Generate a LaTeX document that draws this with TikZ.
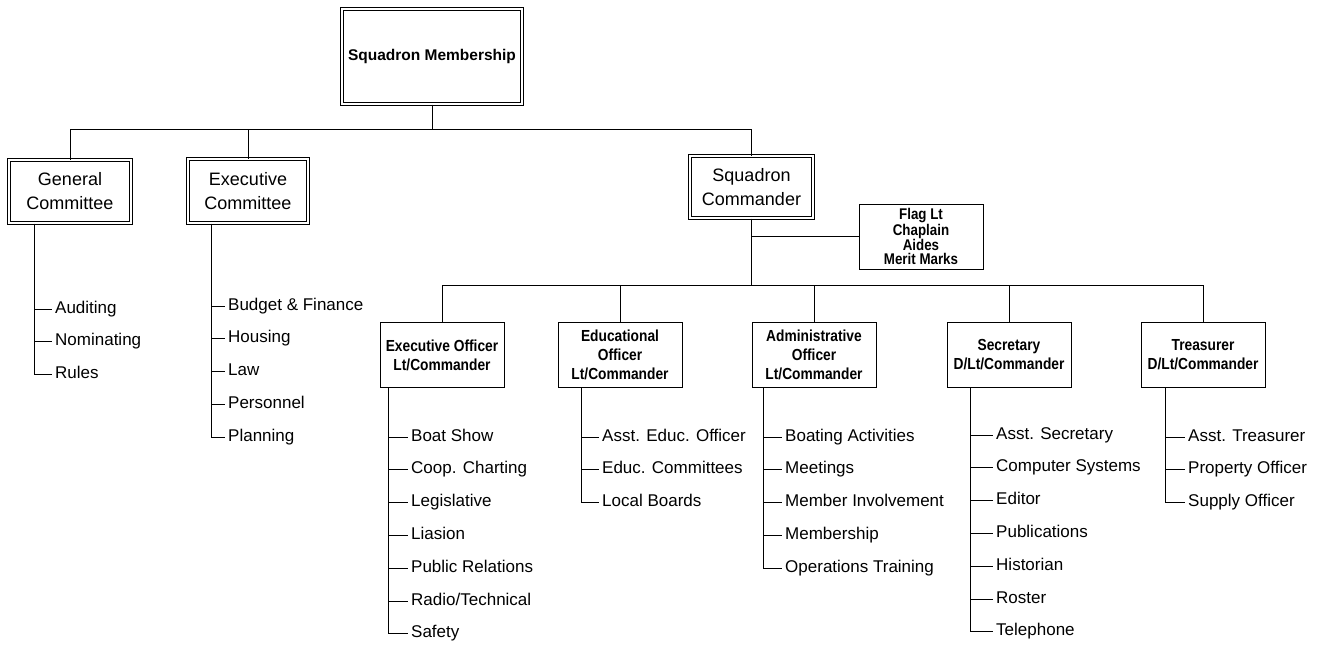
\documentclass[tikz,border=0pt]{standalone}
\usepackage{fontspec}
\setmainfont{Liberation Sans}
\newfontfamily\narrowbf[FakeStretch=0.86]{Liberation Sans Bold}
\usetikzlibrary{positioning}

\begin{document}
\begin{tikzpicture}[
    x=1pt, y=-1pt,
    dbox/.style={rectangle, draw=black, double=white, line width=1pt, double distance=2pt, align=center, font=\fontsize{18}{24}\selectfont},
    obox/.style={rectangle, draw, line width=1pt, minimum width=124pt, minimum height=65pt, align=center, font=\fontsize{16}{19}\narrowbf},
    item/.style={anchor=west, inner xsep=3pt, inner ysep=0pt, text height=12pt, text depth=4pt, font=\fontsize{17}{20}\selectfont},
    nextitem/.style={below=32.8pt of #1.west, anchor=west},
    link/.style={line width=1pt}
]
\useasboundingbox (0,0) rectangle (1320,648);

% top level
\node[dbox, minimum width=180pt, minimum height=95pt, font=\fontsize{15.5}{18}\selectfont\bfseries] (memb) at (432,56.5) {Squadron Membership};
\node[dbox, minimum width=122pt, minimum height=63pt] (gc) at (70,191.5) {General\\Committee};
\node[dbox, minimum width=120pt, minimum height=64pt] (ec) at (248,191) {Executive\\Committee};
\node[dbox, minimum width=123pt, minimum height=62pt] (sc) at (751.5,187) {Squadron\\Commander};
\node[obox, font=\fontsize{15.5}{14}\narrowbf, right=45pt of sc, yshift=-49.5pt] (flag) {Flag Lt\\Chaplain\\Aides\\Merit Marks};

% officers
\node[obox] (eo) at (442,355) {Executive Officer\\Lt/Commander};
\node[obox, right=53pt of eo] (edu) {Educational\\Officer\\Lt/Commander};
\node[obox, right=69pt of edu] (adm) {Administrative\\Officer\\Lt/Commander};
\node[obox, right=70pt of adm] (sec) {Secretary\\D/Lt/Commander};
\node[obox, right=69pt of sec] (tre) {Treasurer\\D/Lt/Commander};

% committees
\node[item] (gc1) at (52,309) {Auditing};
\node[item, nextitem=gc1] (gc2) {Nominating};
\node[item, nextitem=gc2] (gc3) {Rules};

\node[item] (ec1) at (225,306) {Budget \& Finance};
\node[item, nextitem=ec1] (ec2) {Housing};
\node[item, nextitem=ec2] (ec3) {Law};
\node[item, nextitem=ec3] (ec4) {Personnel};
\node[item, nextitem=ec4] (ec5) {Planning};

% executive officer
\node[item] (eo1) at (408,437) {Boat Show};
\node[item, nextitem=eo1] (eo2) {Coop. Charting};
\node[item, nextitem=eo2] (eo3) {Legislative};
\node[item, nextitem=eo3] (eo4) {Liasion};
\node[item, nextitem=eo4] (eo5) {Public Relations};
\node[item, nextitem=eo5] (eo6) {Radio/Technical};
\node[item, nextitem=eo6] (eo7) {Safety};

% educational officer
\node[item] (edu1) at (599,437) {Asst. Educ. Officer};
\node[item, nextitem=edu1] (edu2) {Educ. Committees};
\node[item, nextitem=edu2] (edu3) {Local Boards};

% administrative officer
\node[item] (adm1) at (782,437) {Boating Activities};
\node[item, nextitem=adm1] (adm2) {Meetings};
\node[item, nextitem=adm2] (adm3) {Member Involvement};
\node[item, nextitem=adm3] (adm4) {Membership};
\node[item, nextitem=adm4] (adm5) {Operations Training};

% secretary
\node[item] (sec1) at (993,435) {Asst. Secretary};
\node[item, nextitem=sec1] (sec2) {Computer Systems};
\node[item, nextitem=sec2] (sec3) {Editor};
\node[item, nextitem=sec3] (sec4) {Publications};
\node[item, nextitem=sec4] (sec5) {Historian};
\node[item, nextitem=sec5] (sec6) {Roster};
\node[item, nextitem=sec6] (sec7) {Telephone};

% treasurer
\node[item] (tre1) at (1185,437) {Asst. Treasurer};
\node[item, nextitem=tre1] (tre2) {Property Officer};
\node[item, nextitem=tre2] (tre3) {Supply Officer};

% buses
\coordinate (top-bus) at ([yshift=-25pt]memb.south);
\coordinate (cmd-bus) at ([yshift=-67pt]sc.south);
\draw[link] (memb.south) -- (top-bus);
\draw[link] (gc.north) |- (top-bus) -| (sc.north);
\draw[link] (ec.north) -- (ec.north |- top-bus);
\draw[link] (sc.south) -- (cmd-bus);
\draw[link] (flag.west) -- (flag.west -| sc.south);
\draw[link] (eo.north) |- (cmd-bus) -| (tre.north);
\draw[link] (edu.north) -- (edu.north |- cmd-bus);
\draw[link] (adm.north) -- (adm.north |- cmd-bus);
\draw[link] (sec.north) -- (sec.north |- cmd-bus);

% stems
\coordinate (gc-stem) at ([xshift=26pt]gc.south west);
\coordinate (ec-stem) at ([xshift=24pt]ec.south west);
\coordinate (eo-stem) at ([xshift=9pt]eo.south west);
\coordinate (edu-stem) at ([xshift=24pt]edu.south west);
\coordinate (adm-stem) at ([xshift=12pt]adm.south west);
\coordinate (sec-stem) at ([xshift=24pt]sec.south west);
\coordinate (tre-stem) at ([xshift=25pt]tre.south west);

\draw[link] (gc-stem) |- (gc1.west) (gc-stem) |- (gc2.west) (gc-stem) |- (gc3.west);
\draw[link] (ec-stem) |- (ec1.west) (ec-stem) |- (ec2.west) (ec-stem) |- (ec3.west)
    (ec-stem) |- (ec4.west) (ec-stem) |- (ec5.west);
\draw[link] (eo-stem) |- (eo1.west) (eo-stem) |- (eo2.west) (eo-stem) |- (eo3.west)
    (eo-stem) |- (eo4.west) (eo-stem) |- (eo5.west) (eo-stem) |- (eo6.west) (eo-stem) |- (eo7.west);
\draw[link] (edu-stem) |- (edu1.west) (edu-stem) |- (edu2.west) (edu-stem) |- (edu3.west);
\draw[link] (adm-stem) |- (adm1.west) (adm-stem) |- (adm2.west) (adm-stem) |- (adm3.west)
    (adm-stem) |- (adm4.west) (adm-stem) |- (adm5.west);
\draw[link] (sec-stem) |- (sec1.west) (sec-stem) |- (sec2.west) (sec-stem) |- (sec3.west)
    (sec-stem) |- (sec4.west) (sec-stem) |- (sec5.west) (sec-stem) |- (sec6.west) (sec-stem) |- (sec7.west);
\draw[link] (tre-stem) |- (tre1.west) (tre-stem) |- (tre2.west) (tre-stem) |- (tre3.west);

\end{tikzpicture}
\end{document}
